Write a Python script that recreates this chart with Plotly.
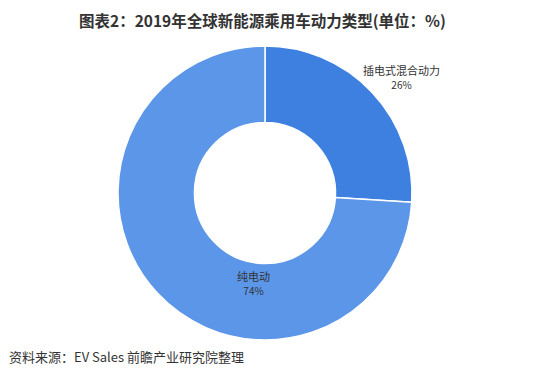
import plotly.graph_objects as go

categories = ["插电式混合动力", "纯电动"]
values = [26, 74]
colors = ["#3d80e0", "#5b96e8"]

# the page body has an 8px margin; size the figure to the remaining window
OFF = 8
W, H = 552 - OFF, 378 - OFF


def px(x, y):
    return (x - OFF) / W, 1 - (y - OFF) / H


cx, cy, r = 265, 193, 147

x0, y1 = px(cx - r, cy - r)
x1, y0 = px(cx + r, cy + r)

fig = go.Figure(go.Pie(
    labels=categories,
    values=values,
    hole=0.48,
    sort=False,
    direction="clockwise",
    rotation=0,
    textinfo="none",
    hoverinfo="label+percent",
    marker=dict(colors=colors, line=dict(color="white", width=1.5)),
    domain=dict(x=[x0, x1], y=[y0, y1]),
    showlegend=False,
))

label_pos = [(401, 77), (253, 283)]
for cat, v, (lx, ly) in zip(categories, values, label_pos):
    ax, ay = px(lx, ly)
    fig.add_annotation(
        x=ax, y=ay, xref="paper", yref="paper",
        xanchor="center", yanchor="middle",
        text=f"{cat}<br><span style='font-size:10px'>{v}%</span>",
        showarrow=False, align="center",
        font=dict(family="Noto Sans CJK SC", size=11, color="#333333"),
    )

tx, ty = px(262, 20)
fig.add_annotation(
    x=tx, y=ty, xref="paper", yref="paper",
    text="<b>图表2：2019年全球新能源乘用车动力类型(单位：%)</b>",
    showarrow=False, xanchor="center", yanchor="middle",
    font=dict(family="Noto Sans CJK SC", size=15.5, color="#333333"),
)
sx, sy = px(7, 356)
fig.add_annotation(
    x=sx, y=sy, xref="paper", yref="paper",
    text="资料来源：EV Sales 前瞻产业研究院整理",
    showarrow=False, xanchor="left", yanchor="middle",
    font=dict(family="Noto Sans CJK SC", size=13, color="#333333"),
)

fig.update_layout(
    width=W, height=H,
    margin=dict(l=0, r=0, t=0, b=0),
    paper_bgcolor="white", plot_bgcolor="white",
)
fig.write_html("out.html")
